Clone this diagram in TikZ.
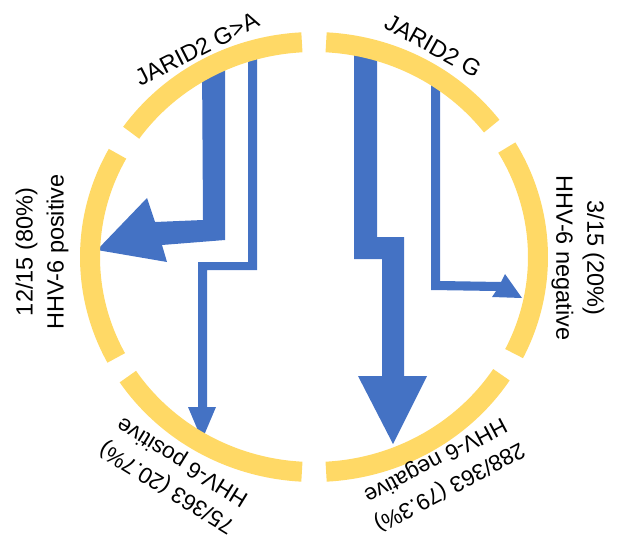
\documentclass[tikz,border=0pt]{standalone}
\usepackage{fontspec}
\setmainfont{Liberation Sans}
\definecolor{ringc}{HTML}{FFD966}
\definecolor{arrc}{HTML}{4472C4}
\begin{document}
\begin{tikzpicture}[x=1pt,y=-1pt,
  ring/.style={draw=ringc, line width=20pt, line cap=butt},
  flow/.style={fill=arrc, draw=none},
  lab/.style={font=\fontsize{23.5}{31}\selectfont, align=center, inner sep=0pt, text=black},
  blab/.style={font=\fontsize{22.5}{30}\selectfont, align=center, inner sep=0pt, text=black}]
\useasboundingbox (0,0) rectangle (618,540);
% flows
\fill[flow] (202,60) -- (225,60) -- (225,240) -- (162,245) -- (167,262) -- (97,250) -- (147,198) -- (155,222) -- (203,220) -- cycle;
\fill[flow] (248,55) -- (257,55) -- (257,270) -- (207,270) -- (207,407) -- (216,407) -- (202,440) -- (188,407) -- (198,407) -- (198,262) -- (248,262) -- cycle;
\fill[flow] (354,50) -- (377,50) -- (377,237) -- (404,237) -- (404,376) -- (427,376) -- (393,444) -- (358,376) -- (382,376) -- (382,259) -- (354,259) -- cycle;
\fill[flow] (431,75) -- (440,75) -- (440,281) -- (501,282) -- (505,274) -- (522,298) -- (492,297) -- (496,291) -- (431,290) -- cycle;
% ring
\begin{scope}[shift={(314,257)}]
\draw[ring] (-37.5:224 and 215) arc[start angle=-37.5, end angle=-86.9, x radius=224, y radius=215];
\draw[ring] (-93.1:224 and 215) arc[start angle=-93.1, end angle=-144.7, x radius=224, y radius=215];
\draw[ring] (-151.3:224 and 215) arc[start angle=-151.3, end angle=-208, x radius=224, y radius=215];
\draw[ring] (-213.8:224 and 215) arc[start angle=-213.8, end angle=-266.9, x radius=224, y radius=215];
\draw[ring] (-273.1:224 and 215) arc[start angle=-273.1, end angle=-326.8, x radius=224, y radius=215];
\draw[ring] (-333.3:224 and 215) arc[start angle=-333.3, end angle=-390.6, x radius=224, y radius=215];
\end{scope}
% labels
\node[lab, rotate=90] (lpos) at (42,252) {12/15 (80\%)\\HHV-6 positive};
\node[lab, rotate=-90] (rneg) at (578,258) {3/15 (20\%)\\HHV-6 negative};
\node[lab, rotate=27] (ga) at (197,49) {JARID2 G>A};
\node[lab, rotate=-29] (g) at (433,46) {JARID2 G};
\node[blab, rotate=148.5] (bpos) at (175,474) {75/363 (20.7\%)\\HHV-6 positive};
\node[blab, rotate=208] (bneg) at (442,473) {288/363 (79.3\%)\\HHV-6 negative};
\end{tikzpicture}
\end{document}
